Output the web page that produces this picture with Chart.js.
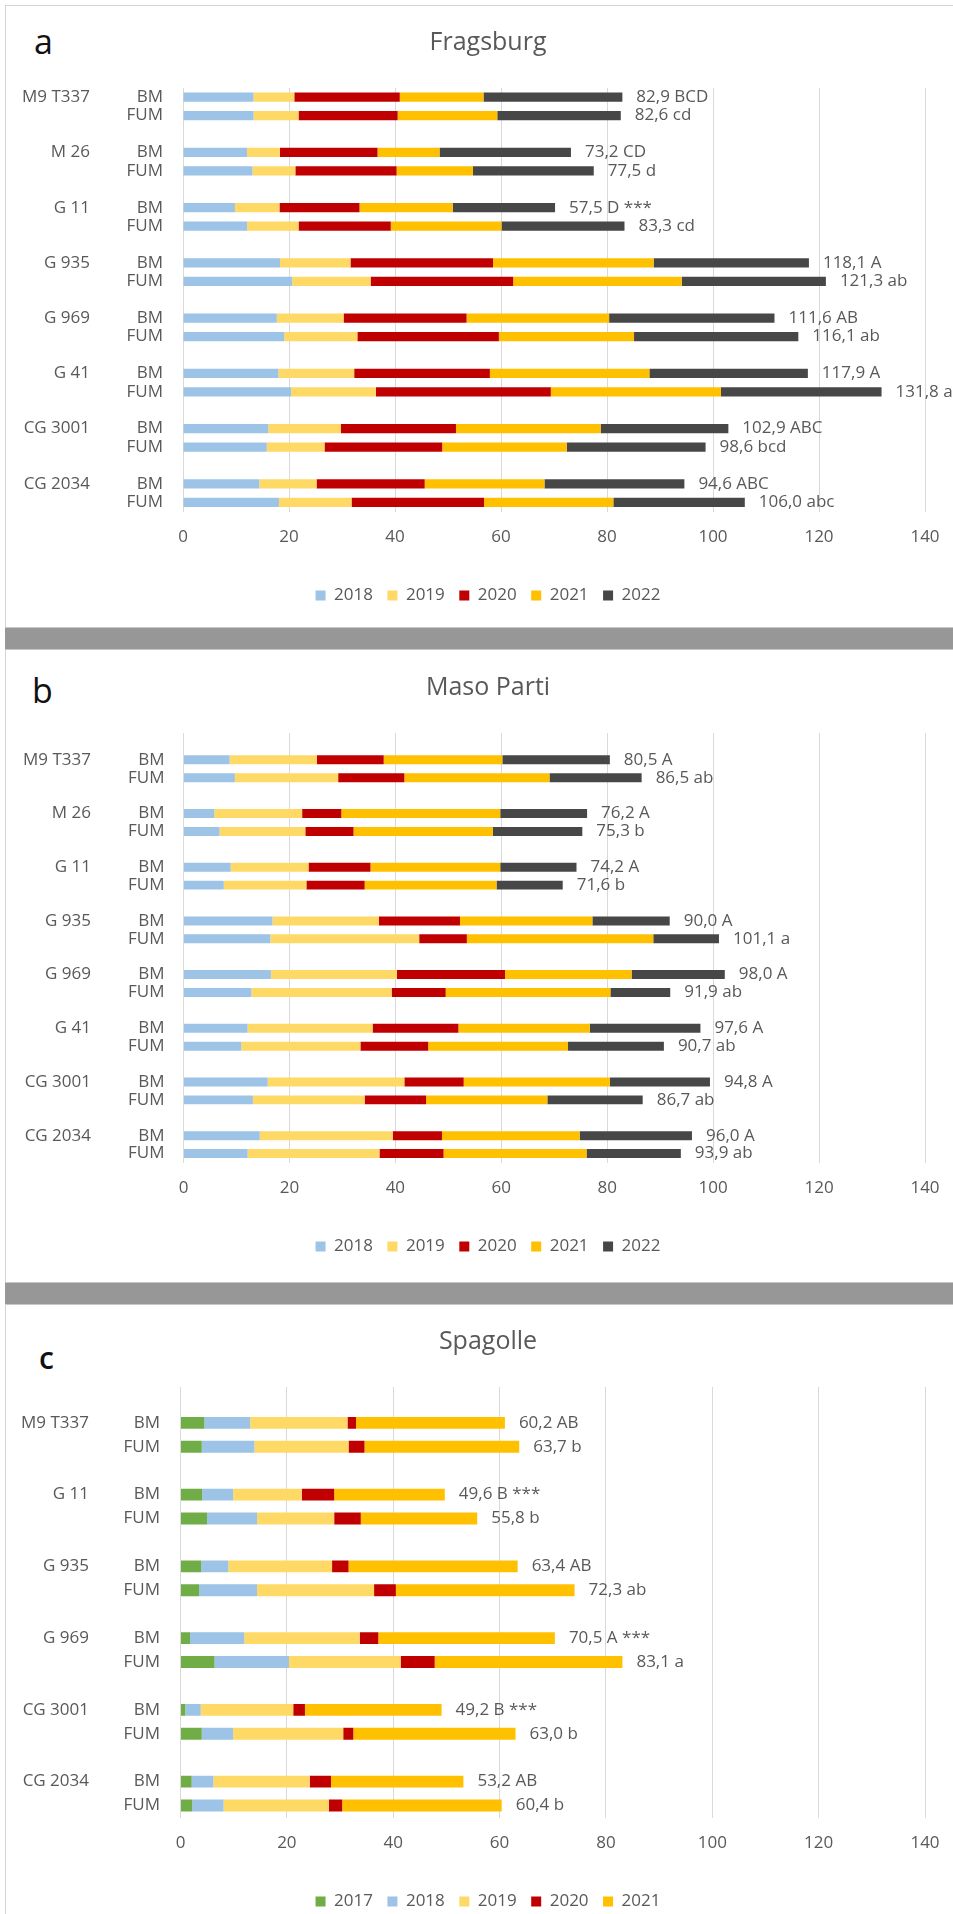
<!DOCTYPE html>
<html>
<head>
<meta charset="utf-8">
<script src="https://cdn.jsdelivr.net/npm/chart.js@4"></script>
<style>
    html, body { margin: 0; padding: 0; background: #fff; }
    #page { position: relative; width: 953px; height: 1914px; overflow: hidden; font-family: 'Open Sans', sans-serif; }
    .panel { position: absolute; left: 5px; width: 1000px; background: #fff; border-left: 1px solid #d4d4d4; border-top: 1px solid #d4d4d4; box-sizing: border-box; }
    .band { position: absolute; left: 5px; width: 1000px; height: 23px; background: #979797; border-top: 1px solid #c6c6c6; border-bottom: 1px solid #c6c6c6; box-sizing: border-box; }
    .letter { position: absolute; font-size: 34px; line-height: 34px; color: #111; }
    .wrap { position: absolute; left: 0; width: 976px; }
</style>
</head>
<body>
<div id="page">
    <div class="panel" style="top:5px;height:622px"></div>
    <div class="band" style="top:627px"></div>
    <div class="panel" style="top:650px;height:632px;border-top:none"></div>
    <div class="band" style="top:1282px"></div>
    <div class="panel" style="top:1305px;height:700px;border-top:none"></div>

    <span class="letter" style="left:34px;top:24px">a</span>
    <span class="letter" style="left:32px;top:673px">b</span>
    <span class="letter" style="left:39px;top:1343px;font-size:30px;line-height:30px;font-weight:600">c</span>

    <div class="wrap" style="top:20px;height:594px"><canvas id="chart-fragsburg"></canvas></div>
    <div class="wrap" style="top:665px;height:600px"><canvas id="chart-maso"></canvas></div>
    <div class="wrap" style="top:1319px;height:601px"><canvas id="chart-spagolle"></canvas></div>
</div>

<script>
// ════════════════════════════════════════
// DATA  (values per rootstock: BM, FUM)
// ════════════════════════════════════════

const TREATMENTS = ['BM', 'FUM'];
const ROOTSTOCKS_AB = ['M9 T337', 'M 26', 'G 11', 'G 935', 'G 969', 'G 41', 'CG 3001', 'CG 2034'];
const ROOTSTOCKS_C = ['M9 T337', 'G 11', 'G 935', 'G 969', 'CG 3001', 'CG 2034'];
const YEARS_AB = ['2018', '2019', '2020', '2021', '2022'];
const YEARS_C = ['2017', '2018', '2019', '2020', '2021'];

// Fragsburg
const fragsburg2018 = [13.3, 13.3, 12.1, 13.1, 9.8, 12.1, 18.3, 20.6, 17.7, 19.1, 18.0, 20.4, 16.1, 15.8, 14.4, 18.1];
const fragsburg2019 = [7.7, 8.5, 6.2, 8.1, 8.4, 9.7, 13.3, 14.8, 12.6, 13.8, 14.3, 16.0, 13.7, 10.9, 10.8, 13.7];
const fragsburg2020 = [19.9, 18.7, 18.4, 19.1, 15.1, 17.4, 26.9, 26.9, 23.2, 26.7, 25.6, 33.0, 21.7, 22.2, 20.4, 25.0];
const fragsburg2021 = [15.8, 18.8, 11.7, 14.4, 17.6, 20.9, 30.3, 31.8, 26.9, 25.5, 30.1, 32.1, 27.3, 23.5, 22.6, 24.4];
const fragsburg2022 = [26.2, 23.3, 24.8, 22.8, 19.3, 23.2, 29.3, 27.2, 31.2, 31.0, 29.9, 30.3, 24.1, 26.2, 26.4, 24.8];
const fragsburgTotals = ['82,9 BCD', '82,6 cd', '73,2 CD', '77,5 d', '57,5 D ***', '83,3 cd', '118,1 A', '121,3 ab',
    '111,6 AB', '116,1 ab', '117,9 A', '131,8 a', '102,9 ABC', '98,6 bcd', '94,6 ABC', '106,0 abc'];

// Maso Parti
const maso2018 = [8.7, 9.7, 5.8, 6.8, 8.9, 7.6, 16.8, 16.4, 16.5, 12.8, 12.1, 10.9, 15.9, 13.1, 14.4, 12.1];
const maso2019 = [16.5, 19.5, 16.6, 16.2, 14.7, 15.6, 20.1, 28.1, 23.8, 26.5, 23.6, 22.5, 25.8, 21.1, 25.1, 24.9];
const maso2020 = [12.6, 12.5, 7.4, 9.1, 11.7, 11.0, 15.3, 9.0, 20.4, 10.2, 16.2, 12.8, 11.2, 11.6, 9.3, 12.1];
const maso2021 = [22.4, 27.4, 30.0, 26.3, 24.5, 24.9, 25.0, 35.2, 23.9, 31.1, 24.8, 26.4, 27.6, 22.9, 26.0, 27.0];
const maso2022 = [20.3, 17.4, 16.4, 16.9, 14.4, 12.5, 14.6, 12.4, 17.6, 11.3, 20.9, 18.1, 18.9, 18.0, 21.2, 17.8];
const masoTotals = ['80,5 A', '86,5 ab', '76,2 A', '75,3 b', '74,2 A', '71,6 b', '90,0 A', '101,1 a',
    '98,0 A', '91,9 ab', '97,6 A', '90,7 ab', '94,8 A', '86,7 ab', '96,0 A', '93,9 ab'];

// Spagolle
const spagolle2017 = [4.5, 4.0, 4.1, 5.0, 3.9, 3.5, 1.8, 6.4, 0.9, 4.0, 2.1, 2.2];
const spagolle2018 = [8.6, 9.9, 5.8, 9.4, 5.1, 10.9, 10.2, 14.0, 2.9, 5.9, 4.1, 5.9];
const spagolle2019 = [18.3, 17.7, 12.9, 14.5, 19.5, 22.0, 21.7, 21.0, 17.4, 20.7, 18.1, 19.8];
const spagolle2020 = [1.6, 3.0, 6.1, 5.0, 3.1, 4.1, 3.5, 6.4, 2.2, 1.9, 4.0, 2.5];
const spagolle2021 = [28.0, 29.1, 20.8, 21.9, 31.8, 33.6, 33.2, 35.3, 25.7, 30.5, 24.9, 30.0];
const spagolleTotals = ['60,2 AB', '63,7 b', '49,6 B ***', '55,8 b', '63,4 AB', '72,3 ab',
    '70,5 A ***', '83,1 a', '49,2 B ***', '63,0 b', '53,2 AB', '60,4 b'];

// ════════════════════════════════════════
// STYLE
// ════════════════════════════════════════

const FONT = "'Open Sans', sans-serif";
const TEXT = '#595959';
const GRID = '#d9d9d9';
const YEAR_COLORS = {
    '2017': '#70AD47',
    '2018': '#9DC3E6',
    '2019': '#FFD966',
    '2020': '#C00000',
    '2021': '#FFC000',
    '2022': '#474747',
};

Chart.defaults.font.family = FONT;
Chart.defaults.color = TEXT;

// ════════════════════════════════════════
// ROWS: BM / FUM per rootstock, blank row between groups
// ════════════════════════════════════════

function buildRows(groups, leadingGap) {
    const rows = [];
    if (leadingGap) rows.push(null);
    groups.forEach((g, gi) => {
        if (gi > 0) rows.push(null);
        TREATMENTS.forEach((t, ti) => rows.push({ group: g, treat: t, idx: gi * 2 + ti }));
    });
    return rows;
}

// total labels at the end of each stacked bar
function totalLabelPlugin(rows, texts) {
    return {
        id: 'totalLabels',
        afterDatasetsDraw(chart) {
            const { ctx } = chart;
            const meta = chart.getDatasetMeta(chart.data.datasets.length - 1);
            ctx.save();
            ctx.font = `17px ${FONT}`;
            ctx.fillStyle = TEXT;
            ctx.textAlign = 'left';
            ctx.textBaseline = 'middle';
            rows.forEach((r, i) => {
                if (!r) return;
                const el = meta.data[i];
                ctx.fillText(texts[r.idx], el.x + 14, el.y);
            });
            ctx.restore();
        },
    };
}

function buildPanel(canvasId, title, groups, years, series, totals, opts) {
    const rows = buildRows(groups, opts.leadingGap);
    const tickFont = { family: FONT, size: 17 };

    return new Chart(document.getElementById(canvasId), {
        type: 'bar',
        data: {
            labels: rows.map(r => (r ? r.treat : '')),
            datasets: years.map((y, k) => ({
                label: y,
                data: rows.map(r => (r ? series[k][r.idx] : null)),
                backgroundColor: YEAR_COLORS[y],
                borderWidth: 0,
                barPercentage: 0.5,
                categoryPercentage: 1,
            })),
        },
        options: {
            indexAxis: 'y',
            responsive: true,
            maintainAspectRatio: false,
            animation: false,
            layout: { padding: 0 },
            plugins: {
                title: {
                    display: true,
                    text: title,
                    color: TEXT,
                    font: { family: FONT, size: 25, weight: 'normal' },
                    padding: { top: 8, bottom: 30 },
                },
                legend: {
                    position: 'bottom',
                    labels: {
                        boxWidth: 10,
                        boxHeight: 10,
                        padding: 14.5,
                        color: TEXT,
                        font: tickFont,
                    },
                },
                tooltip: { enabled: false },
            },
            scales: {
                x: {
                    stacked: true,
                    min: 0,
                    max: 140,
                    ticks: { stepSize: 20, padding: 15, color: TEXT, font: tickFont },
                    grid: { color: GRID, lineWidth: 1, drawTicks: false },
                    border: { display: false },
                    afterFit: s => { s.height += 10.6; },
                },
                y: {
                    stacked: true,
                    weight: 0,
                    ticks: { padding: opts.treatPad, color: TEXT, font: tickFont, autoSkip: false },
                    grid: { display: false, drawTicks: false },
                    border: { display: false },
                    afterFit: s => { s.width = opts.treatWidth; },
                },
                y2: {
                    type: 'category',
                    axis: 'y',
                    position: 'left',
                    weight: 1,
                    offset: true,
                    labels: rows.map(r => (r && r.treat === 'BM' ? r.group : '')),
                    ticks: { padding: 10, color: TEXT, font: tickFont, autoSkip: false },
                    grid: { display: false, drawTicks: false },
                    border: { display: false },
                    afterFit: s => { s.width = opts.groupWidth; },
                },
                // empty right-hand strip, leaves room for the total labels
                yRight: {
                    type: 'category',
                    axis: 'y',
                    position: 'right',
                    offset: true,
                    labels: rows.map(() => ''),
                    ticks: { display: false },
                    grid: { display: false, drawTicks: false },
                    border: { display: false },
                    afterFit: s => { s.width = 51; },
                },
            },
        },
        plugins: [totalLabelPlugin(rows, totals)],
    });
}

// ════════════════════════════════════════
// MAIN RENDER
// ════════════════════════════════════════

buildPanel('chart-fragsburg', 'Fragsburg', ROOTSTOCKS_AB, YEARS_AB,
    [fragsburg2018, fragsburg2019, fragsburg2020, fragsburg2021, fragsburg2022], fragsburgTotals,
    { leadingGap: false, groupWidth: 100, treatWidth: 83, treatPad: 20 });

buildPanel('chart-maso', 'Maso Parti', ROOTSTOCKS_AB, YEARS_AB,
    [maso2018, maso2019, maso2020, maso2021, maso2022], masoTotals,
    { leadingGap: true, groupWidth: 101, treatWidth: 82.5, treatPad: 19 });

buildPanel('chart-spagolle', 'Spagolle', ROOTSTOCKS_C, YEARS_C,
    [spagolle2017, spagolle2018, spagolle2019, spagolle2020, spagolle2021], spagolleTotals,
    { leadingGap: true, groupWidth: 99, treatWidth: 81.5, treatPad: 20.5 });
</script>
</body>
</html>
